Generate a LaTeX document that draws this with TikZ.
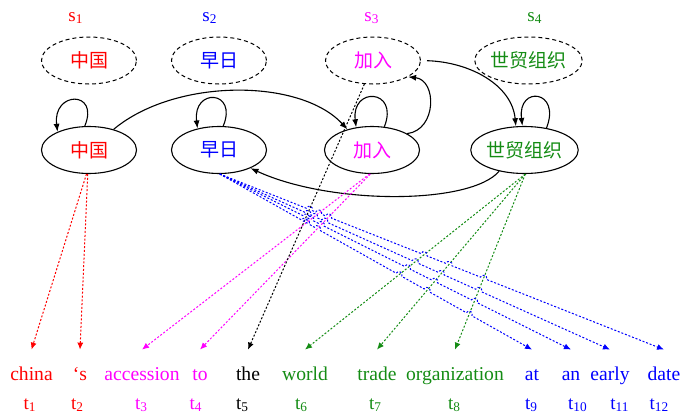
\documentclass[tikz,border=0pt]{standalone}
\usepackage{fontspec}
\setmainfont{Liberation Serif}
\newfontfamily\cjk{Noto Sans CJK SC}
\usetikzlibrary{shapes.geometric,arrows.meta,intersections,calc}
\definecolor{myred}{RGB}{255,0,0}
\definecolor{myblue}{RGB}{0,0,255}
\definecolor{mymag}{RGB}{255,0,255}
\definecolor{mygreen}{RGB}{20,140,20}
\begin{document}
\begin{tikzpicture}[x=0.5pt,y=-0.5pt,
  every node/.style={font=\fontsize{9.8}{11}\selectfont},
  dstate/.style={ellipse,draw,dash pattern=on 2pt off 1.5pt,line width=0.5pt,minimum width=47.5pt,minimum height=23.5pt,inner sep=0pt,font=\cjk\fontsize{9.5}{10}\selectfont},
  sstate/.style={ellipse,draw,line width=0.55pt,minimum width=47.5pt,minimum height=23.5pt,inner sep=0pt,font=\cjk\fontsize{9.5}{10}\selectfont},
  word/.style={anchor=base,inner ysep=7pt,inner xsep=0pt,text height=8pt,text depth=2pt},
  idx/.style={anchor=base,inner sep=0pt,font=\fontsize{9.5}{11}\selectfont},
  trans/.style={draw=black,line width=0.55pt,-{Latex[length=4pt,width=3pt]}},
  alink/.style={line width=0.5pt,dash pattern=on 1pt off 0.9pt,-{Latex[length=3.5pt,width=3pt]}},
]
\useasboundingbox (0,0) rectangle (682,413);

% state labels
\node[idx,text=myred]   (s1) at (76,21)  {s\textsubscript{1}};
\node[idx,text=myblue]  (s2) at (210,21) {s\textsubscript{2}};
\node[idx,text=mymag]   (s3) at (372,21) {s\textsubscript{3}};
\node[idx,text=mygreen] (s4) at (535,21) {s\textsubscript{4}};

% dashed states
\node[dstate,text=myred]   (d1) at (89,60.5)   {中国};
\node[dstate,text=myblue]  (d2) at (219,60.5)  {早日};
\node[dstate,text=mymag]   (jd) at (373,60.5)  {加入};
\node[dstate,text=mygreen] (d4) at (528.5,60.5){世贸组织};

% solid states
\node[sstate,text=myred]   (zg) at (89,150)    {中国};
\node[sstate,text=myblue]  (zr) at (219,150)   {早日};
\node[sstate,text=mymag]   (jr) at (372,150)   {加入};
\node[sstate,text=mygreen] (sm) at (524.5,150) {世贸组织};

% words
\node[word,text=myred]   (w1)  at (31.5,380) {china};
\node[word,text=myred]   (w2)  at (80,380)   {‘s};
\node[word,text=mymag]   (w3)  at (142,380)  {accession};
\node[word,text=mymag]   (w4)  at (200,380)  {to};
\node[word,text=black]   (w5)  at (248,380)  {the};
\node[word,text=mygreen] (w6)  at (305,380)  {world};
\node[word,text=mygreen] (w7)  at (377,380)  {trade};
\node[word,text=mygreen] (w8)  at (455,380)  {organization};
\node[word,text=myblue]  (w9)  at (532,380)  {at};
\node[word,text=myblue]  (w10) at (571,380)  {an};
\node[word,text=myblue]  (w11) at (610,380)  {early};
\node[word,text=myblue]  (w12) at (664,380)  {date};

% indices
\node[idx,text=myred]   (t1)  at (30,409)    {t\textsubscript{1}};
\node[idx,text=myred]   (t2)  at (77.5,409)  {t\textsubscript{2}};
\node[idx,text=mymag]   (t3)  at (141.5,409) {t\textsubscript{3}};
\node[idx,text=mymag]   (t4)  at (196,409)   {t\textsubscript{4}};
\node[idx,text=black]   (t5)  at (242.5,409) {t\textsubscript{5}};
\node[idx,text=mygreen] (t6)  at (301.5,409) {t\textsubscript{6}};
\node[idx,text=mygreen] (t7)  at (375.5,409) {t\textsubscript{7}};
\node[idx,text=mygreen] (t8)  at (454.5,409) {t\textsubscript{8}};
\node[idx,text=myblue]  (t9)  at (531.5,409) {t\textsubscript{9}};
\node[idx,text=myblue]  (t10) at (578,409)   {t\textsubscript{10}};
\node[idx,text=myblue]  (t11) at (620,409)   {t\textsubscript{11}};
\node[idx,text=myblue]  (t12) at (659.5,409) {t\textsubscript{12}};

% self loops
\draw[trans] (zg.100) .. controls +(15,-36) and +(-5,-41) .. (zg.150);
\draw[trans] (zr.80)  .. controls +(15,-36) and +(-5,-41) .. (zr.135);
\draw[trans] (jr.62)  .. controls +(15,-38) and +(-5,-41) .. (jr.125);
\draw[trans] (sm.45)  .. controls +(15,-38) and +(-5,-41) .. (sm.95);

% transitions
\draw[trans] (zg.40) .. controls (175,78) and (300,78) .. (jr.140);
\draw[trans] (jr.25) .. controls (437,130) and (437,80) .. (jd.-25);
\draw[trans,shorten <=3pt] (jd.east) .. controls (470,62) and (512,85) .. (sm.110);
\draw[trans] (sm.-140) .. controls (470,205) and (330,205) .. (zr.-30);

% alignment links
\draw[alink,myred] (zg.-96) -- (w1.north);
\draw[alink,myred] (zg.-93) -- (w2.north);
\draw[alink,mymag,name path=m1] (jr.-96) -- (w3.north);
\draw[alink,mymag,name path=m2] (jr.-94) -- (w4.north);
\draw[alink,black,name path=kk] (jd.-110) -- (w5.north);
\draw[alink,mygreen,name path=g1] (sm.-88) -- (w6.north);
\draw[alink,mygreen,name path=g2] (sm.-88) -- (w7.north);
\draw[alink,mygreen,name path=g3] (sm.-88) -- (w8.north);

\coordinate (S) at (zr.-88);
\foreach \j in {9,10,11,12}{
  \path[name path=bl] (S) -- (w\j.north);
  \foreach \i/\p in {1/kk,2/m1,3/m2,4/g1,5/g2,6/g3}{
    \path[name intersections={of=bl and \p,by={X\i}}];
    \coordinate (A\i) at ($(X\i)!1.6pt!(S)$);
    \coordinate (B\i) at ($(X\i)!1.6pt!(w\j.north)$);
    \coordinate (C\i) at ($(A\i)!2.1pt!90:(B\i)$);
    \coordinate (D\i) at ($(B\i)!2.1pt!-90:(A\i)$);
  }
  \draw[alink,myblue] (S)
    -- (A1) .. controls (C1) and (D1) .. (B1)
    -- (A2) .. controls (C2) and (D2) .. (B2)
    -- (A3) .. controls (C3) and (D3) .. (B3)
    -- (A4) .. controls (C4) and (D4) .. (B4)
    -- (A5) .. controls (C5) and (D5) .. (B5)
    -- (A6) .. controls (C6) and (D6) .. (B6)
    -- (w\j.north);
}
\end{tikzpicture}
\end{document}
